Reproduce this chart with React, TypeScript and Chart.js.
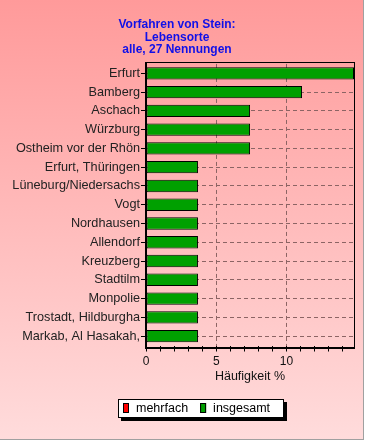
import { useEffect, useRef } from 'react';
import { Chart, registerables } from 'chart.js';

Chart.register(...registerables);

const categories = [
  'Erfurt',
  'Bamberg',
  'Aschach',
  'Würzburg',
  'Ostheim vor der Rhön',
  'Erfurt, Thüringen',
  'Lüneburg/Niedersachs',
  'Vogt',
  'Nordhausen',
  'Allendorf',
  'Kreuzberg',
  'Stadtilm',
  'Monpolie',
  'Trostadt, Hildburgha',
  'Markab, Al Hasakah,',
];
const insgesamt = [14.81, 11.11, 7.41, 7.41, 7.41, 3.7, 3.7, 3.7, 3.7, 3.7, 3.7, 3.7, 3.7, 3.7, 3.7];
const mehrfach: number[] = [];
const titleLines = ['Vorfahren von Stein:', 'Lebensorte', 'alle, 27 Nennungen'];
const xTitle = 'Häufigkeit %';
const xMax = 14.81;
const xLabeled = [0, 5, 10];

const FONT = "'Liberation Sans', Arial, sans-serif";
const GRID = '#8c6464';

const decor = {
  id: 'decor',
  beforeDraw(chart: any) {
    const { ctx, width, height } = chart;
    ctx.save();
    const g = ctx.createLinearGradient(0, 0, 0, height);
    g.addColorStop(0, '#ff9a9a');
    g.addColorStop(1, '#ffdcdc');
    ctx.fillStyle = g;
    ctx.fillRect(0, 0, width, height);
    ctx.fillStyle = '#ffffff';
    ctx.fillRect(364, 0, 1, height);
    ctx.fillRect(0, 440, width, 1);
    ctx.fillStyle = '#a0a0a0';
    ctx.fillRect(363, 0, 1, 440);
    ctx.fillRect(0, 439, 364, 1);
    ctx.restore();
  },
  afterDatasetsDraw(chart: any) {
    const { ctx, chartArea: a } = chart;
    const top = Math.round(a.top) - 2;
    const bottom = Math.round(a.bottom + 1.5);
    const left = Math.round(a.left);
    const right = Math.round(a.right);
    ctx.save();
    ctx.fillStyle = '#000';
    ctx.fillRect(left, top, right - left + 1, 1);
    ctx.fillRect(right, top, 1, bottom - top);
    ctx.fillRect(left - 1, top, 2, bottom - top + 2);
    ctx.fillRect(left - 1, bottom, right - left + 2, 2);
    ctx.restore();
  },
  afterDraw(chart: any) {
    const { ctx } = chart;
    const lx = 118, ly = 399, lw = 166, lh = 19;
    ctx.save();
    ctx.fillStyle = '#000';
    ctx.fillRect(lx + 3, ly + 3, lw, lh);
    ctx.fillStyle = '#fff';
    ctx.fillRect(lx, ly, lw, lh);
    ctx.strokeStyle = '#000';
    ctx.lineWidth = 1;
    ctx.strokeRect(lx + 0.5, ly + 0.5, lw - 1, lh - 1);
    ctx.font = `12.5px ${FONT}`;
    ctx.textBaseline = 'middle';
    let x = lx + 5;
    chart.data.datasets.forEach((ds: any) => {
      ctx.fillStyle = ds.legendColor;
      ctx.fillRect(x, ly + 4, 6, 10);
      ctx.strokeStyle = '#000';
      ctx.strokeRect(x + 0.5, ly + 4.5, 5, 9);
      ctx.fillStyle = '#000';
      const tx = x + 13;
      ctx.fillText(ds.label, tx, ly + lh / 2 + 0.5);
      x = tx + ctx.measureText(ds.label).width + 12;
    });
    ctx.restore();
  },
};

export default function App() {
  const ref = useRef<HTMLCanvasElement>(null);
  useEffect(() => {
    document.body.style.margin = '0';
    if (!ref.current) return;
    const chart = new Chart(ref.current, {
      type: 'bar',
      data: {
        labels: categories,
        datasets: [
          {
            label: 'mehrfach',
            data: mehrfach,
            backgroundColor: '#ff0000',
            borderColor: '#000',
            borderWidth: 1,
            legendColor: '#ff0000',
          } as any,
          {
            label: 'insgesamt',
            data: insgesamt,
            backgroundColor: '#00a000',
            borderColor: '#000',
            borderWidth: 1,
            borderSkipped: false,
            legendColor: '#00a000',
          } as any,
        ],
      },
      options: {
        indexAxis: 'y',
        responsive: false,
        animation: false,
        layout: { padding: { top: 0, left: 0, right: 11, bottom: 51.5 } },
        datasets: { bar: { grouped: false, barPercentage: 0.66, categoryPercentage: 1 } },
        plugins: {
          legend: { display: false },
          tooltip: { enabled: false },
          title: {
            display: true,
            text: titleLines,
            color: '#1010e8',
            font: { family: FONT, size: 12, weight: 'bold', lineHeight: 1.04 },
            padding: { top: 18.75, bottom: 7.75 },
          },
        },
        scales: {
          x: {
            type: 'linear',
            min: 0,
            max: xMax,
            afterFit: (s: any) => {
              s.height = 44;
            },
            ticks: {
              stepSize: 1,
              autoSkip: false,
              includeBounds: false,
              maxRotation: 0,
              minRotation: 0,
              padding: 3,
              color: '#111',
              font: { family: FONT, size: 12 },
              callback: (v: any) => (xLabeled.includes(Number(v)) ? String(v) : ''),
            },
            grid: {
              color: (c: any) =>
                c.tick && c.tick.value % 5 === 0 && c.tick.value !== 0 ? GRID : 'rgba(0,0,0,0)',
              tickColor: '#000',
              tickLength: 6,
              lineWidth: 1,
            },
            border: { display: false, dash: [4, 3] },
            title: {
              display: true,
              text: xTitle,
              color: '#111',
              font: { family: FONT, size: 12.5 },
              padding: { top: 0, bottom: 5 },
            },
          },
          y: {
            type: 'category',
            afterFit: (s: any) => {
              s.width = 146;
            },
            ticks: {
              autoSkip: false,
              padding: 1,
              color: '#222',
              font: { family: FONT, size: 12.7 },
            },
            grid: {
              offset: false,
              color: GRID,
              tickColor: '#000',
              tickLength: 5,
              lineWidth: 1,
            },
            border: { display: false, dash: [4, 3] },
          },
        },
      } as any,
      plugins: [decor],
    });
    return () => chart.destroy();
  }, []);
  return <canvas ref={ref} width={365} height={441} style={{ display: 'block' }} />;
}
